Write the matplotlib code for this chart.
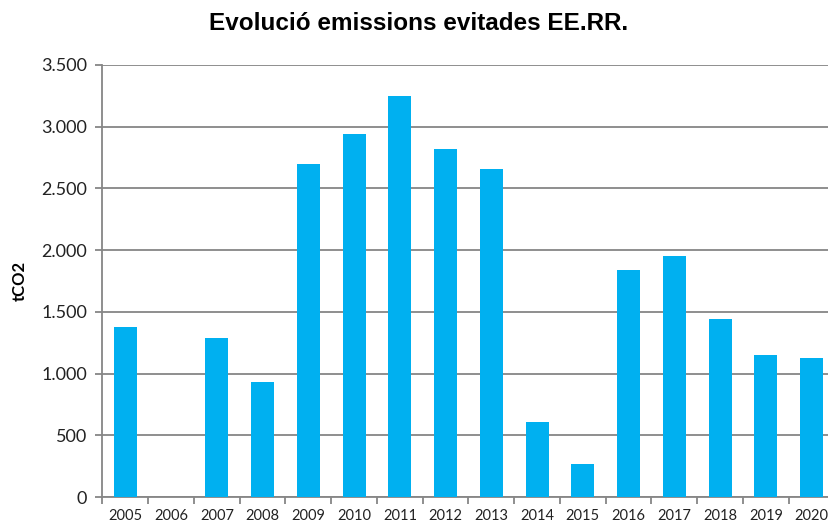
import matplotlib
matplotlib.use("Agg")
import matplotlib.pyplot as plt
from matplotlib.ticker import FuncFormatter

years = ["2005", "2006", "2007", "2008", "2009", "2010", "2011", "2012",
         "2013", "2014", "2015", "2016", "2017", "2018", "2019", "2020"]
values = [1380, 0, 1290, 930, 2700, 2940, 3250, 2820,
          2655, 610, 265, 1840, 1955, 1445, 1150, 1125]
yticks = [0, 500, 1000, 1500, 2000, 2500, 3000, 3500]

W, H = 829, 524
fig = plt.figure(figsize=(W / 100, H / 100), dpi=100)
ax = fig.add_axes([102.5 / W, 1 - 497 / H, 732 / W, 432 / H])

x = list(range(len(years)))
ax.bar(x, values, width=0.5, color="#00B0F0", zorder=3)

ax.set_xlim(-0.5, len(years) - 0.5)
ax.set_ylim(0, 3500)
ax.set_yticks(yticks)
ax.yaxis.set_major_formatter(FuncFormatter(lambda v, p: f"{int(v):,}".replace(",", ".")))
ax.grid(axis="y", color="#868686", linewidth=1.3, zorder=0)

ax.set_xticks(x)
ax.set_xticklabels(years, fontsize=10.5, family="Lato", color="#222222")
ax.set_xticks([i - 0.5 for i in range(len(years) + 1)], minor=True)
ax.tick_params(axis="x", which="major", length=0, pad=9)
ax.tick_params(axis="x", which="minor", length=5, width=1.3, color="#868686")
ax.tick_params(axis="y", length=5, width=1.3, color="#868686", pad=6, labelsize=13, labelcolor="#222222")
for lbl in ax.get_yticklabels():
    lbl.set_family("Lato")

for s in ["top", "right"]:
    ax.spines[s].set_visible(False)
for s in ["left", "bottom"]:
    ax.spines[s].set_color("#868686")
    ax.spines[s].set_linewidth(1.3)

fig.text(20 / W, 1 - 281 / H, "tCO2", rotation=90, fontsize=12, fontweight="bold",
         family="Lato", ha="center", va="center")
fig.text(419 / W, 1 - 24 / H, "Evolució emissions evitades EE.RR.", fontsize=17.5,
         fontweight="bold", family="Liberation Sans", ha="center", va="center")

fig.savefig("out.png", dpi=100)
